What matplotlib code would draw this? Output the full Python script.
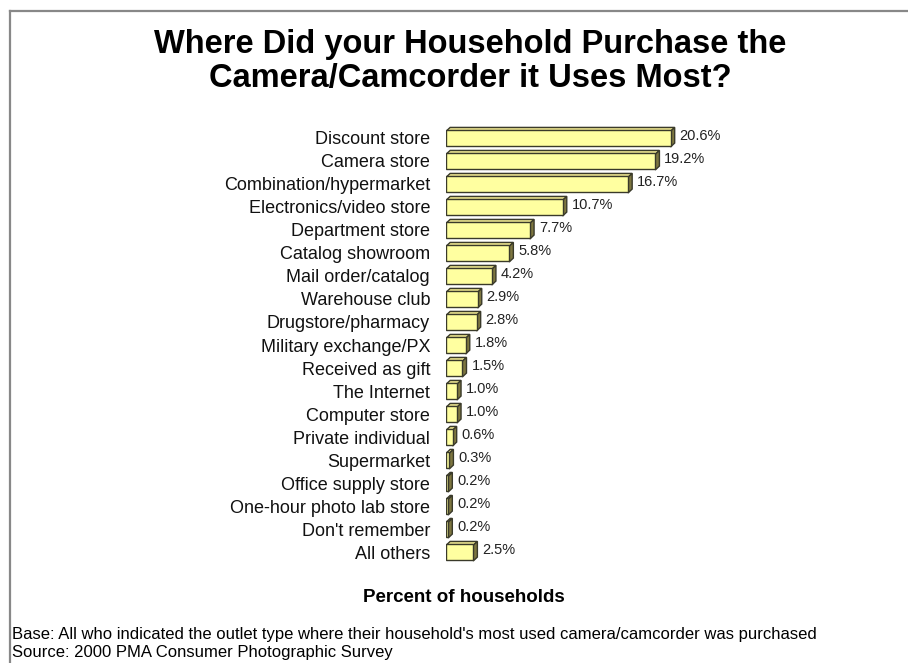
import matplotlib.pyplot as plt
from matplotlib.patches import Polygon
from matplotlib.lines import Line2D

plt.rcParams['font.family'] = ['Liberation Sans', 'DejaVu Sans']

outlets = ['Discount store', 'Camera store', 'Combination/hypermarket',
           'Electronics/video store', 'Department store', 'Catalog showroom',
           'Mail order/catalog', 'Warehouse club', 'Drugstore/pharmacy',
           'Military exchange/PX', 'Received as gift', 'The Internet',
           'Computer store', 'Private individual', 'Supermarket',
           'Office supply store', 'One-hour photo lab store', "Don't remember",
           'All others']
shares = [20.6, 19.2, 16.7, 10.7, 7.7, 5.8, 4.2, 2.9, 2.8, 1.8, 1.5, 1.0,
          1.0, 0.6, 0.3, 0.2, 0.2, 0.2, 2.5]
share_labels = ['20.6%', '19.2%', '16.7%', '10.7%', '7.7%', '5.8%', '4.2%',
                '2.9%', '2.8%', '1.8%', '1.5%', '1.0%', '1.0%', '0.6%',
                '0.3%', '0.2%', '0.2%', '0.2%', '2.5%']

W, H = 908, 663
fig = plt.figure(figsize=(W / 100, H / 100), dpi=100)
ax = fig.add_axes([446 / W, 1 - 565 / H, 272.5 / W, 440 / H])

front = '#ffffa0'
top = '#e6df8c'
side = '#7d7640'
edge = '#3a3a2a'

bar_h = 0.68
dx = 0.38   # depth in % units
dy = 0.17   # depth in row units

ypos = list(range(len(outlets)))
ax.barh(ypos, shares, height=bar_h, color=front, edgecolor=edge,
        linewidth=1.0, zorder=3)
for y, v, lab in zip(ypos, shares, share_labels):
    y0 = y - bar_h / 2 + 0.05
    ax.add_patch(Polygon([(0, y0), (dx, y0 - dy), (v + dx, y0 - dy), (v, y0)],
                         closed=True, facecolor=top, edgecolor=edge,
                         linewidth=1.0, zorder=2))
    y1 = y + bar_h / 2 + 0.05
    ax.add_patch(Polygon([(v, y0), (v + dx, y0 - dy), (v + dx, y1 - dy),
                          (v, y1)], closed=True, facecolor=side,
                         edgecolor=edge, linewidth=1.0, zorder=2))
    ax.text(v + dx + 0.45, y - 0.1, lab, fontsize=10.5, color='#222222',
            va='center', ha='left')

ax.set_xlim(0, 25)
ax.set_ylim(18.565, -0.565)
ax.set_yticks(ypos)
ax.set_yticklabels(outlets, fontsize=13, color='#111111')
ax.tick_params(axis='y', length=0, pad=11.5)
ax.set_xticks([])
for s in ax.spines.values():
    s.set_visible(False)

fig.text(470 / W, 1 - 45 / H, 'Where Did your Household Purchase the',
         ha='center', va='center', fontsize=23.5, fontweight='bold')
fig.text(470 / W, 1 - 79 / H, 'Camera/Camcorder it Uses Most?',
         ha='center', va='center', fontsize=23.5, fontweight='bold')
fig.text(464 / W, 1 - 598 / H, 'Percent of households', ha='center',
         va='center', fontsize=13.5, fontweight='bold')
fig.text(12 / W, 1 - 635 / H,
         "Base: All who indicated the outlet type where their household's most "
         "used camera/camcorder was purchased",
         ha='left', va='center', fontsize=12)
fig.text(12 / W, 1 - 653 / H, 'Source: 2000 PMA Consumer Photographic Survey',
         ha='left', va='center', fontsize=12)

# gray frame on top and left
fig.add_artist(Line2D([10 / W, 1], [1 - 11 / H, 1 - 11 / H],
                      color='#888888', linewidth=1.6))
fig.add_artist(Line2D([10 / W, 10 / W], [1 - 11 / H, 0],
                      color='#888888', linewidth=1.6))

fig.savefig('out.png', dpi=100)
